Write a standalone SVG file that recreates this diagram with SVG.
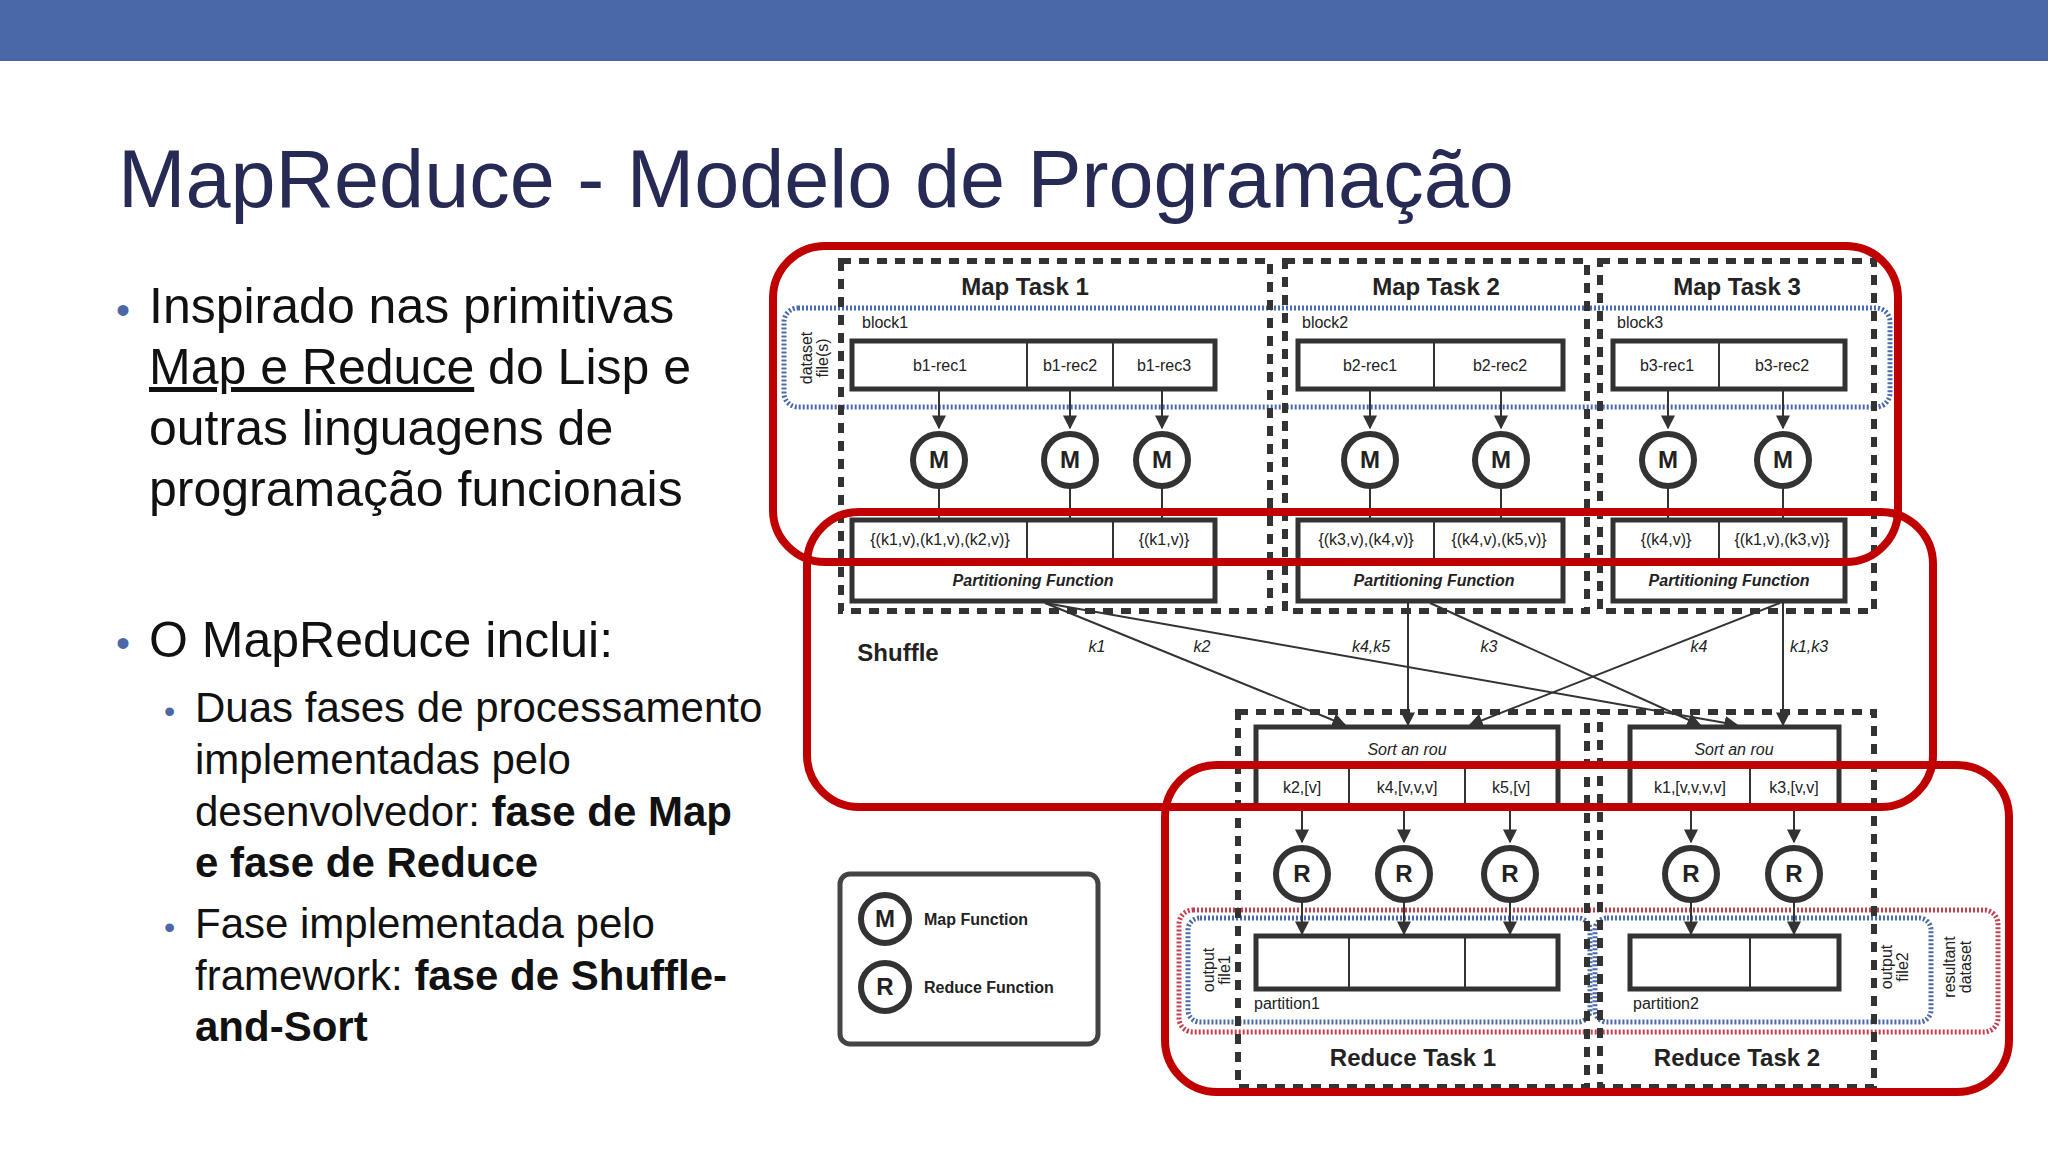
<svg xmlns="http://www.w3.org/2000/svg" width="2048" height="1152" viewBox="0 0 2048 1152">
<defs>
<marker id="ar" viewBox="0 0 10 10" refX="9" refY="5" markerWidth="7" markerHeight="7" orient="auto"><path d="M0,0L10,5L0,10z" fill="#333"/></marker>
<style>
.t{font-family:"Liberation Sans",Arial,sans-serif}
.b{fill:#fff;stroke:#333;stroke-width:5}
.task{fill:none;stroke:#333;stroke-width:6;stroke-dasharray:10 8}
.c{fill:#fff;stroke:#333;stroke-width:6}
.ln{stroke:#333;stroke-width:2;fill:none}
.a{stroke:#333;stroke-width:2;fill:none;marker-end:url(#ar)}
.red{fill:none;stroke:#c00000;stroke-width:8}
.s{font-family:"Liberation Sans",Arial,sans-serif;font-size:16px;fill:#222;text-anchor:middle}
.st{font-family:"Liberation Sans",Arial,sans-serif;font-size:16px;fill:#222;text-anchor:start}
.ct{font-family:"Liberation Sans",Arial,sans-serif;font-size:24px;font-weight:bold;fill:#222;text-anchor:middle}
.bl{fill:none;stroke:#4a6aa8;stroke-width:5;stroke-dasharray:2 2}
.rd{fill:none;stroke:#c44050;stroke-width:5;stroke-dasharray:2 2}
</style>
</defs>
<rect width="2048" height="1152" fill="#fff"/>
<rect width="2048" height="61" fill="#4a67a8"/>
<text class="t" x="118" y="207" font-size="81" fill="#262a55">MapReduce - Modelo de Programação</text>
<g id="text" class="t" fill="#111">
<text x="116" y="324" font-size="40" fill="#4a67a8">•</text>
<text x="149" y="323" font-size="50">Inspirado nas primitivas</text>
<text x="149" y="384" font-size="50"><tspan text-decoration="underline">Map e Reduce</tspan> do Lisp e</text>
<text x="149" y="445" font-size="50">outras linguagens de</text>
<text x="149" y="506" font-size="50">programação funcionais</text>
<text x="116" y="657" font-size="40" fill="#4a67a8">•</text>
<text x="149" y="657" font-size="50">O MapReduce inclui:</text>
<text x="164" y="722" font-size="32" fill="#4a67a8">•</text>
<text x="195" y="722" font-size="42">Duas fases de processamento</text>
<text x="195" y="774" font-size="42">implementadas pelo</text>
<text x="195" y="826" font-size="42">desenvolvedor: <tspan font-weight="bold">fase de Map</tspan></text>
<text x="195" y="877" font-size="42" font-weight="bold">e fase de Reduce</text>
<text x="164" y="938" font-size="32" fill="#4a67a8">•</text>
<text x="195" y="938" font-size="42">Fase implementada pelo</text>
<text x="195" y="990" font-size="42">framework: <tspan font-weight="bold">fase de Shuffle-</tspan></text>
<text x="195" y="1041" font-size="42" font-weight="bold">and-Sort</text>
</g>
<g id="bands">
<rect class="bl" x="784" y="308" width="1106" height="99" rx="14"/>
<rect class="rd" x="1179" y="910" width="819" height="122" rx="14"/>
<rect class="bl" x="1188" y="918" width="402" height="104" rx="12"/>
<rect class="bl" x="1595" y="918" width="336" height="104" rx="12"/>
</g>
<g id="maptasks">
<rect class="task" x="841" y="261" width="429" height="350"/>
<rect class="task" x="1285" y="261" width="302" height="350"/>
<rect class="task" x="1600" y="261" width="274" height="350"/>
<text class="ct" x="1025" y="295">Map Task  1</text>
<text class="ct" x="1436" y="295">Map Task  2</text>
<text class="ct" x="1737" y="295">Map Task  3</text>
<text class="st" x="862" y="328">block1</text>
<text class="st" x="1302" y="328">block2</text>
<text class="st" x="1617" y="328">block3</text>
<text class="s" transform="translate(812,358) rotate(-90)" font-size="15">dataset</text>
<text class="s" transform="translate(828,358) rotate(-90)" font-size="15">file(s)</text>
</g>
<g id="records">
<rect class="b" x="852" y="341" width="363" height="48"/><path class="ln" stroke-width="5" d="M1027 341V389M1113 341V389"/>
<text class="s" x="940" y="371">b1-rec1</text><text class="s" x="1070" y="371">b1-rec2</text><text class="s" x="1164" y="371">b1-rec3</text>
<rect class="b" x="1298" y="341" width="265" height="48"/><path class="ln" stroke-width="5" d="M1434 341V389"/>
<text class="s" x="1370" y="371">b2-rec1</text><text class="s" x="1500" y="371">b2-rec2</text>
<rect class="b" x="1613" y="341" width="232" height="48"/><path class="ln" stroke-width="5" d="M1719 341V389"/>
<text class="s" x="1667" y="371">b3-rec1</text><text class="s" x="1782" y="371">b3-rec2</text>
</g>
<g id="connectors">
<path class="a" d="M939 389V428"/><path class="a" d="M1070 389V428"/><path class="a" d="M1162 389V428"/><path class="a" d="M1370 389V428"/><path class="a" d="M1501 389V428"/><path class="a" d="M1668 389V428"/><path class="a" d="M1783 389V428"/>
<path class="ln" d="M939 488V520M1070 488V520M1162 488V520M1370 488V520M1501 488V520M1668 488V520M1783 488V520"/>
<path class="a" d="M1045 603L1345 725"/><path class="a" d="M1045 603L1737 725"/><path class="a" d="M1408 603V725"/><path class="a" d="M1430 603L1700 725"/><path class="a" d="M1780 603L1470 725"/><path class="a" d="M1783 603V725"/>
<path class="a" d="M1302 806V842"/><path class="a" d="M1404 806V842"/><path class="a" d="M1510 806V842"/><path class="a" d="M1691 806V842"/><path class="a" d="M1794 806V842"/>
<path class="a" d="M1302 902V934"/><path class="a" d="M1404 902V934"/><path class="a" d="M1510 902V934"/><path class="a" d="M1691 902V934"/><path class="a" d="M1794 902V934"/>
</g>
<g id="maps">
<circle class="c" cx="939" cy="460" r="26"/><circle class="c" cx="1070" cy="460" r="26"/><circle class="c" cx="1162" cy="460" r="26"/>
<circle class="c" cx="1370" cy="460" r="26"/><circle class="c" cx="1501" cy="460" r="26"/><circle class="c" cx="1668" cy="460" r="26"/><circle class="c" cx="1783" cy="460" r="26"/>
<g class="ct" font-size="22"><text x="939" y="468">M</text><text x="1070" y="468">M</text><text x="1162" y="468">M</text><text x="1370" y="468">M</text><text x="1501" y="468">M</text><text x="1668" y="468">M</text><text x="1783" y="468">M</text></g>
</g>
<g id="partition">
<rect class="b" x="852" y="520" width="363" height="81"/><path class="ln" stroke-width="5" d="M852 559H1215M1027 520V559M1113 520V559"/>
<text class="s" x="940" y="545" font-size="14">{(k1,v),(k1,v),(k2,v)}</text><text class="s" x="1164" y="545" font-size="14">{(k1,v)}</text>
<rect class="b" x="1298" y="520" width="265" height="81"/><path class="ln" stroke-width="5" d="M1298 559H1563M1434 520V559"/>
<text class="s" x="1366" y="545" font-size="14">{(k3,v),(k4,v)}</text><text class="s" x="1499" y="545" font-size="14">{(k4,v),(k5,v)}</text>
<rect class="b" x="1613" y="520" width="232" height="81"/><path class="ln" stroke-width="5" d="M1613 559H1845M1719 520V559"/>
<text class="s" x="1666" y="545" font-size="14">{(k4,v)}</text><text class="s" x="1782" y="545" font-size="14">{(k1,v),(k3,v)}</text>
<g class="s" font-style="italic" font-weight="bold" fill="#333"><text x="1033" y="586">Partitioning Function</text><text x="1434" y="586">Partitioning Function</text><text x="1729" y="586">Partitioning Function</text></g>
</g>
<g id="shuffle">
<text class="ct" x="898" y="661">Shuffle</text>
<g class="s" font-style="italic" font-size="14"><text x="1097" y="652">k1</text><text x="1202" y="652">k2</text><text x="1371" y="652">k4,k5</text><text x="1489" y="652">k3</text><text x="1699" y="652">k4</text><text x="1809" y="652">k1,k3</text></g>
</g>
<g id="reducetasks">
<rect class="task" x="1238" y="712" width="349" height="375"/>
<rect class="task" x="1600" y="712" width="274" height="375"/>
<rect class="b" x="1256" y="727" width="302" height="79"/><path class="ln" stroke-width="5" d="M1256 768H1558M1349 768V806M1465 768V806"/>
<text class="s" x="1407" y="755" font-style="italic">Sort an      rou</text>
<text class="s" x="1302" y="793">k2,[v]</text><text class="s" x="1407" y="793">k4,[v,v,v]</text><text class="s" x="1511" y="793">k5,[v]</text>
<rect class="b" x="1630" y="727" width="209" height="79"/><path class="ln" stroke-width="5" d="M1630 768H1839M1750 768V806"/>
<text class="s" x="1734" y="755" font-style="italic">Sort an      rou</text>
<text class="s" x="1690" y="793">k1,[v,v,v,v]</text><text class="s" x="1794" y="793">k3,[v,v]</text>
<circle class="c" cx="1302" cy="874" r="26"/><circle class="c" cx="1404" cy="874" r="26"/><circle class="c" cx="1510" cy="874" r="26"/><circle class="c" cx="1691" cy="874" r="26"/><circle class="c" cx="1794" cy="874" r="26"/>
<g class="ct" font-size="22"><text x="1302" y="882">R</text><text x="1404" y="882">R</text><text x="1510" y="882">R</text><text x="1691" y="882">R</text><text x="1794" y="882">R</text></g>
<rect class="b" x="1256" y="936" width="302" height="53"/><path class="ln" stroke-width="5" d="M1349 936V989M1465 936V989"/>
<rect class="b" x="1630" y="936" width="209" height="53"/><path class="ln" stroke-width="5" d="M1750 936V989"/>
<text class="st" x="1254" y="1009">partition1</text><text class="st" x="1633" y="1009">partition2</text>
<text class="s" transform="translate(1214,970) rotate(-90)" font-size="15">output</text><text class="s" transform="translate(1230,970) rotate(-90)" font-size="15">file1</text>
<text class="s" transform="translate(1892,967) rotate(-90)" font-size="15">output</text><text class="s" transform="translate(1908,967) rotate(-90)" font-size="15">file2</text>
<text class="s" transform="translate(1955,967) rotate(-90)" font-size="15">resultant</text><text class="s" transform="translate(1971,967) rotate(-90)" font-size="15">dataset</text>
<text class="ct" x="1413" y="1066">Reduce Task  1</text><text class="ct" x="1737" y="1066">Reduce Task  2</text>
</g>
<g id="legend">
<rect x="840" y="874" width="258" height="170" rx="10" fill="#fff" stroke="#444" stroke-width="5"/>
<circle class="c" cx="885" cy="919" r="24"/><text class="ct" x="885" y="927" font-size="21">M</text>
<circle class="c" cx="885" cy="987" r="24"/><text class="ct" x="885" y="995" font-size="21">R</text>
<text class="st" x="924" y="925" font-weight="bold">Map Function</text>
<text class="st" x="924" y="993" font-weight="bold">Reduce Function</text>
</g>
<g id="highlights">
<rect class="red" x="773" y="246" width="1125" height="316" rx="52"/>
<rect class="red" x="807" y="512" width="1126" height="295" rx="52"/>
<rect class="red" x="1165" y="765" width="844" height="327" rx="52"/>
</g>
</svg>
